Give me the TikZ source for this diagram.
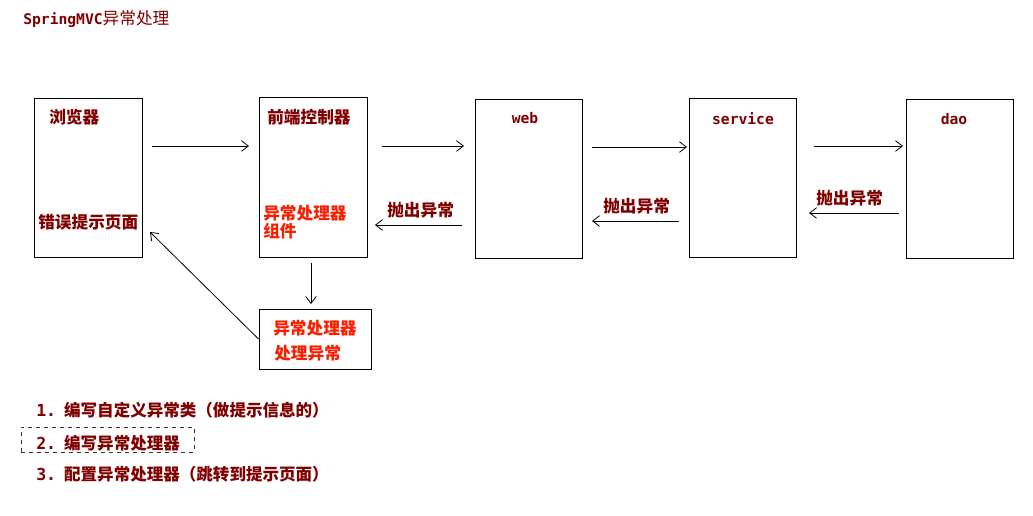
\documentclass[tikz,border=0pt]{standalone}
\usepackage{fontspec}
\newfontfamily\cjk{Noto Sans CJK SC}
\newfontfamily\mono{DejaVu Sans Mono}
\usepackage{tikz}
\usetikzlibrary{arrows.meta,fit}
\definecolor{darkred}{RGB}{128,0,0}
\definecolor{hred}{RGB}{250,30,0}
\tikzset{
  box/.style={draw,inner sep=0pt,line width=0.75pt},
  selbox/.style={draw=black!80,dashed,inner sep=0pt,line width=0.5pt},
  lbl/.style={inner sep=0pt,anchor=west,text=darkred,font=\cjk\bfseries\fontsize{12.5}{14}\selectfont},
  hlbl/.style={inner sep=0pt,anchor=west,text=hred,align=left,font=\cjk\bfseries\fontsize{12.5}{11.3}\selectfont},
  tag/.style={inner sep=0pt,text=darkred,font=\mono\bfseries\fontsize{11}{13}\selectfont},
  item/.style={inner sep=0pt,anchor=west,text=darkred,font=\cjk\bfseries\fontsize{12.4}{14}\selectfont},
  flow/.style={-{Straight Barb[length=5.2pt,width=8pt]},line width=0.6pt}
}
\begin{document}
\begin{tikzpicture}[x=0.75pt,y=0.75pt,yscale=-1,xscale=1]
\fill[white] (0,0) rectangle (1033,515);
\useasboundingbox (0,0) rectangle (1033,515);

% Text Node
\node[tag,anchor=west] (title) at (23,19) {SpringMVC{\cjk\mdseries\fontsize{12.5}{14}\selectfont 异常处理}};

%Shape: Rectangle
\node[box,fit={(34,98)(142,257)}] (browser) {};
\node[box,fit={(259,97)(367,257)}] (ctrl) {};
\node[box,fit={(475,99)(582,258)}] (web) {};
\node[box,fit={(689,98)(796,257)}] (service) {};
\node[box,fit={(906,99)(1013,258)}] (dao) {};
\node[box,fit={(259,309)(371,369)}] (handler) {};
\node[selbox,fit={(21,427)(194,452)}] (sel) {};

% Text Node
\node[lbl] (browserlbl) at (49,117) {浏览器};
\node[lbl] (pagelbl) at (38,222) {错误提示页面};
\node[lbl] (ctrllbl) at (267,117) {前端控制器};
\node[hlbl] (complbl) at (263,222) {异常处理器\\组件};
\node[tag] (weblbl) at (525,118) {web};
\node[tag] (servicelbl) at (743,119) {service};
\node[tag] (daolbl) at (954,119) {dao};
\node[hlbl] (hlbl1) at (273,328) {异常处理器};
\node[hlbl] (hlbl2) at (274,353) {处理异常};
\node[lbl] (throw1) at (387,210) {抛出异常};
\node[lbl] (throw2) at (603,206) {抛出异常};
\node[lbl] (throw3) at (816,198) {抛出异常};

%Straight Lines
\coordinate (f1s) at (152,146); \coordinate (f1e) at (249,146);
\coordinate (f2s) at (382,146); \coordinate (f2e) at (464,146);
\coordinate (f3s) at (592,147); \coordinate (f3e) at (687,147);
\coordinate (f4s) at (814,146); \coordinate (f4e) at (903,146);
\coordinate (b1s) at (899,213); \coordinate (b1e) at (809,213);
\coordinate (b2s) at (679,221); \coordinate (b2e) at (592,221);
\coordinate (b3s) at (462,225); \coordinate (b3e) at (375,225);
\coordinate (d1s) at (311,263); \coordinate (d1e) at (311,304);
\coordinate (r1e) at (150,232);
\draw[flow] (f1s) -- (f1e);
\draw[flow] (f2s) -- (f2e);
\draw[flow] (f3s) -- (f3e);
\draw[flow] (f4s) -- (f4e);
\draw[flow] (b1s) -- (b1e);
\draw[flow] (b2s) -- (b2e);
\draw[flow] (b3s) -- (b3e);
\draw[flow] (d1s) -- (d1e);
\draw[flow] (handler.west |- 0,339) -- (r1e);

% Text Node
\node[item] (step1) at (36,410) {{\mono 1.}\hspace{6pt}编写自定义异常类（做提示信息的）};
\node[item] (step2) at (36,443) {{\mono 2.}\hspace{6pt}编写异常处理器};
\node[item] (step3) at (36,474) {{\mono 3.}\hspace{6pt}配置异常处理器（跳转到提示页面）};

\end{tikzpicture}
\end{document}
